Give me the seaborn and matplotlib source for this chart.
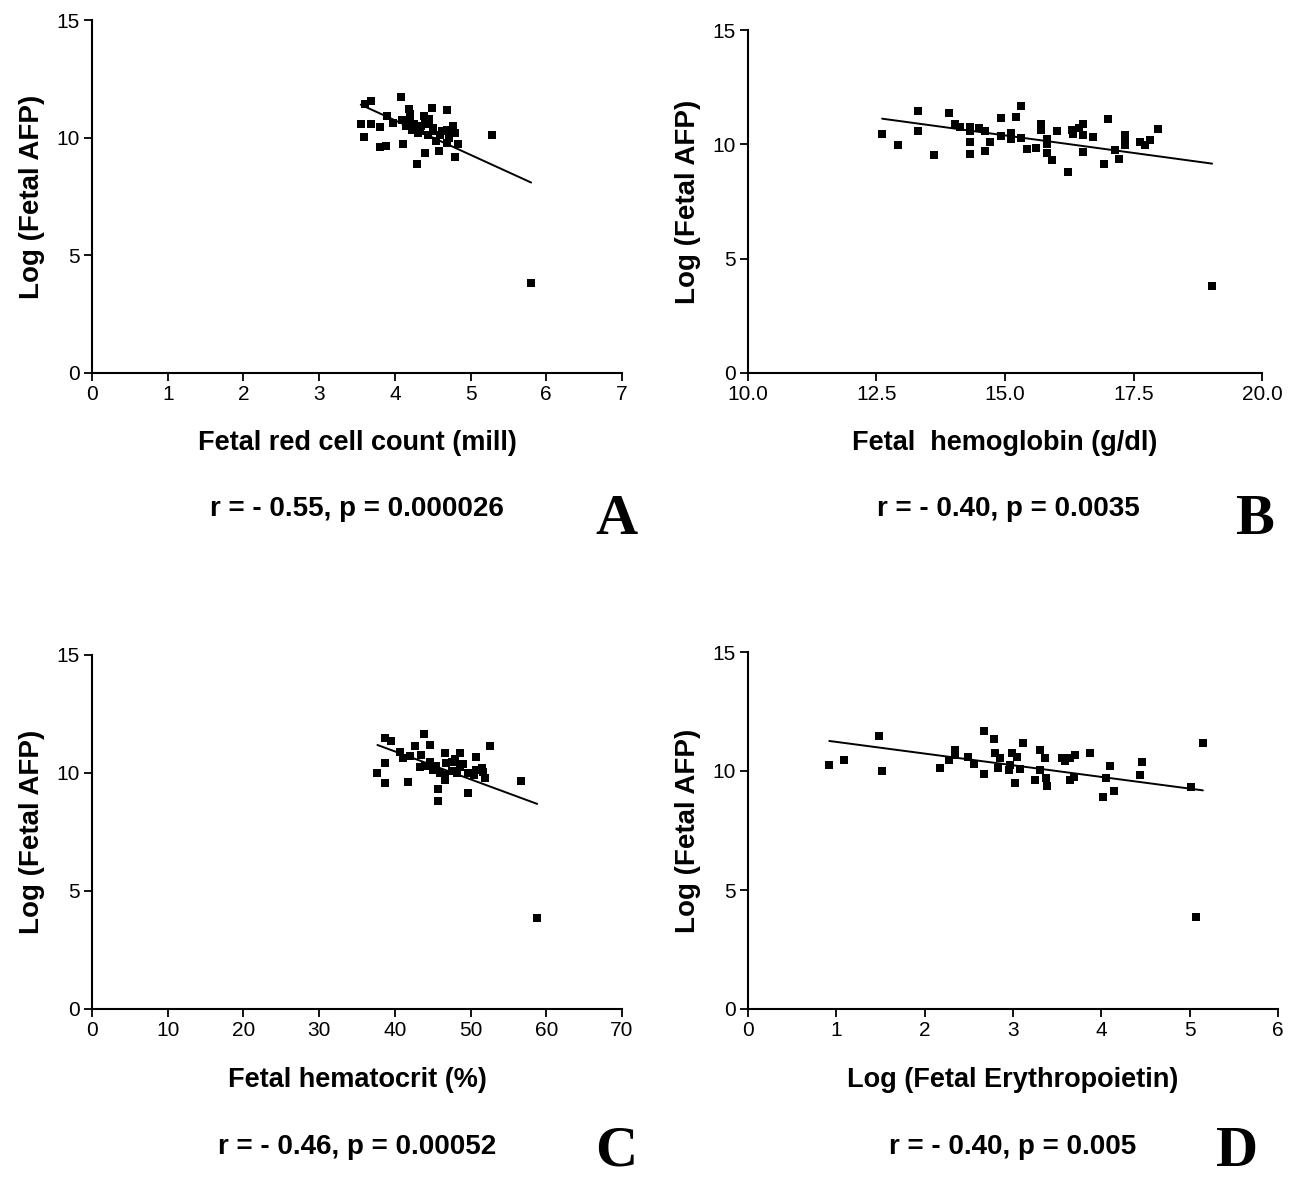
import matplotlib
matplotlib.use("Agg")
import matplotlib.pyplot as plt
import seaborn as sns
import pandas as pd

# ---------------- data ----------------
a_x = [3.68,3.61,4.08,4.19,4.49,4.69,3.55,3.69,3.80,3.89,3.59,3.80,3.88,4.11,3.98,4.09,4.20,4.22,4.33,4.38,4.40,4.44,4.51,4.55,4.60,4.69,4.77,4.80,4.69,4.84,4.40,4.58,4.79,4.29,5.28,4.15,4.25,4.30,4.45,4.50,4.35,4.62,4.72,4.20,4.45,5.80]
a_y = [11.55,11.45,11.73,11.23,11.26,11.16,10.6,10.6,10.46,10.9,10.03,9.6,9.66,9.74,10.63,10.77,10.84,10.34,10.27,10.91,10.63,10.13,10.41,9.84,10.13,10.34,10.48,10.2,9.77,9.73,9.35,9.42,9.18,8.88,10.1,10.5,10.6,10.2,10.6,10.3,10.5,10.3,10.0,11.0,10.8,3.83]

b_x = [12.61,12.91,13.31,13.31,13.62,13.91,14.03,14.12,14.31,14.31,14.31,14.31,14.50,14.61,14.71,14.61,14.92,14.92,15.11,15.11,15.21,15.31,15.32,15.42,15.61,15.71,15.71,15.81,15.81,15.82,15.91,16.01,16.23,16.30,16.33,16.43,16.51,16.51,16.52,16.72,16.93,17.01,17.14,17.22,17.33,17.33,17.33,17.63,17.72,17.82,17.98,19.03]
b_y = [10.44,9.99,11.45,10.57,9.55,11.38,10.9,10.76,10.76,10.57,10.1,9.59,10.73,10.57,10.1,9.71,11.15,10.36,10.51,10.25,11.19,11.66,10.28,9.81,9.84,10.9,10.64,10.25,10.03,9.64,9.3,10.57,8.79,10.64,10.47,10.73,10.9,10.42,9.66,10.32,9.13,11.12,9.74,9.38,10.39,10.17,9.96,10.1,9.99,10.2,10.66,3.8]

c_x = [38.7,39.5,43.8,42.7,44.7,52.6,40.7,41.1,42.0,43.5,38.7,37.7,38.7,41.8,43.3,44.7,45.1,46.6,46.8,46.6,46.6,46.0,47.5,48.6,48.6,48.2,45.7,45.7,49.7,50.7,50.7,49.7,51.7,51.9,56.7,47.5,48.0,49.0,44.0,45.5,50.5,51.5,58.8]
c_y = [11.47,11.37,11.65,11.16,11.19,11.16,10.9,10.62,10.72,10.76,10.44,10.01,9.56,9.6,10.27,10.48,10.13,10.83,10.41,9.92,9.7,9.99,10.48,10.83,10.27,9.99,9.31,8.83,9.14,10.66,10.13,9.99,10.06,9.78,9.68,10.1,10.6,10.4,10.3,10.3,9.9,10.2,3.86]

d_x = [0.92,1.09,1.48,1.52,2.17,2.27,2.34,2.34,2.49,2.56,2.67,2.67,2.78,2.80,2.85,2.83,2.95,2.97,2.99,3.02,3.05,3.08,3.11,3.25,3.30,3.31,3.36,3.37,3.39,3.55,3.59,3.65,3.70,3.65,3.69,3.87,4.02,4.05,4.10,4.14,4.44,4.46,5.01,5.15,5.07]
d_y = [10.25,10.46,11.48,10.0,10.14,10.46,10.88,10.67,10.6,10.29,11.68,9.86,11.34,10.74,10.53,10.14,10.04,10.25,10.77,9.51,10.6,10.08,11.16,9.62,10.88,10.04,10.53,9.69,9.37,10.56,10.42,10.53,10.67,9.62,9.74,10.77,8.89,9.69,10.21,9.16,9.83,10.36,9.34,11.19,3.87]

x_labels = ["Fetal red cell count (mill)", "Fetal  hemoglobin (g/dl)",
            "Fetal hematocrit (%)", "Log (Fetal Erythropoietin)"]
y_label = "Log (Fetal AFP)"
stats = ["r = - 0.55, p = 0.000026", "r = - 0.40, p = 0.0035",
         "r = - 0.46, p = 0.00052", "r = - 0.40, p = 0.005"]
letters = ["A", "B", "C", "D"]
x_ticks = [[0, 1, 2, 3, 4, 5, 6, 7],
           [10.0, 12.5, 15.0, 17.5, 20.0],
           [0, 10, 20, 30, 40, 50, 60, 70],
           [0, 1, 2, 3, 4, 5, 6]]
x_ticklabels = [["0", "1", "2", "3", "4", "5", "6", "7"],
                ["10.0", "12.5", "15.0", "17.5", "20.0"],
                ["0", "10", "20", "30", "40", "50", "60", "70"],
                ["0", "1", "2", "3", "4", "5", "6"]]
y_ticks = [0, 5, 10, 15]

# ---------------- style ----------------
sns.set_style("ticks")
plt.rcParams["font.family"] = ["Liberation Sans", "DejaVu Sans"]
plt.rcParams["text.color"] = "black"
plt.rcParams["axes.labelcolor"] = "black"

W, H = 1297, 1177
fig = plt.figure(figsize=(W / 100, H / 100), dpi=100)

# axes boxes in pixels: left, right, top, bottom
boxes = [(92, 622, 20, 373), (748, 1262, 30, 373),
         (92, 622, 655, 1009), (748, 1278, 652, 1009)]
xl_y = [443, 443, 1080, 1080]
st_y = [509, 509, 1147, 1147]
st_x = [357, 1008, 357, 1013]
let_x = [616, 1254, 616, 1237]
let_y = [520, 520, 1152, 1152]

datasets = [(a_x, a_y), (b_x, b_y), (c_x, c_y), (d_x, d_y)]

for i, ((xs, ys), (l, r, t, b)) in enumerate(zip(datasets, boxes)):
    ax = fig.add_axes([l / W, 1 - b / H, (r - l) / W, (b - t) / H])
    df = pd.DataFrame({"x": xs, "y": ys})
    sns.regplot(data=df, x="x", y="y", ax=ax, ci=None, truncate=True,
                marker="s", color="black",
                scatter_kws={"s": 34, "linewidths": 0, "alpha": 1},
                line_kws={"lw": 1.4})
    ax.set_xlim(x_ticks[i][0], x_ticks[i][-1])
    ax.set_ylim(0, 15)
    ax.set_xticks(x_ticks[i])
    ax.set_xticklabels(x_ticklabels[i])
    ax.set_yticks(y_ticks)
    ax.tick_params(labelsize=15, length=6, width=1.3, direction="out",
                   color="black", labelcolor="black", pad=3)
    for s in ["top", "right"]:
        ax.spines[s].set_visible(False)
    for s in ["left", "bottom"]:
        ax.spines[s].set_linewidth(1.5)
        ax.spines[s].set_color("black")
    ax.set_xlabel("")
    ax.set_ylabel(y_label, fontsize=20, fontweight="bold", labelpad=8)
    ax.patch.set_alpha(0)
    fig.text((l + r) / 2 / W + (0.0 if i % 2 == 0 else 0.0), 1 - xl_y[i] / H,
             x_labels[i], ha="center", va="center", fontsize=19.5,
             fontweight="bold")
    fig.text(st_x[i] / W, 1 - st_y[i] / H, stats[i], ha="center",
             va="center", fontsize=20, fontweight="bold")
    fig.text(let_x[i] / W, 1 - let_y[i] / H, letters[i], ha="center",
             va="center", fontsize=42, fontweight="bold",
             family=["Liberation Serif", "DejaVu Serif"])

fig.savefig("out.png", dpi=100, facecolor="white")
